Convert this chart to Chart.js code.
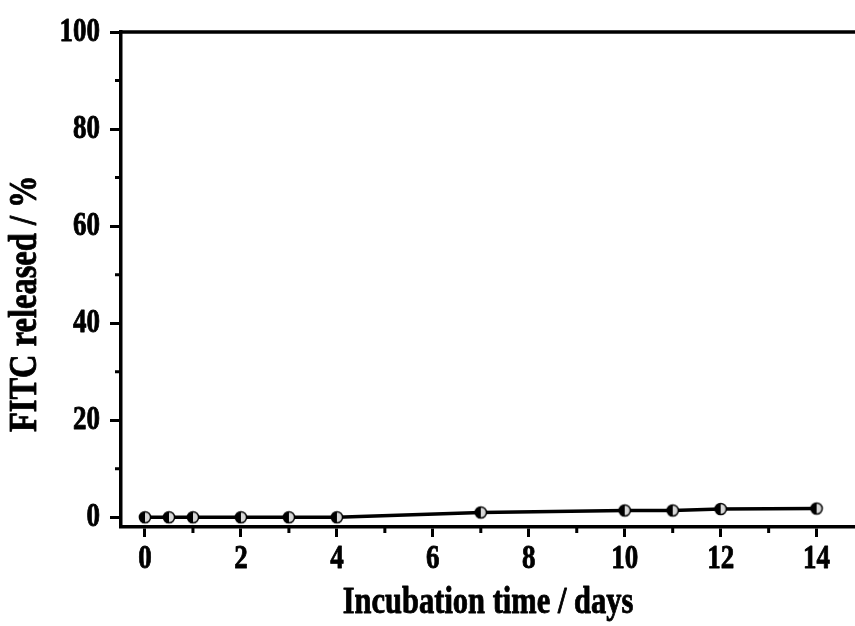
<!DOCTYPE html>
<html>
<head>
<meta charset="utf-8">
<script src="https://cdn.jsdelivr.net/npm/chart.js@4"></script>
<style>
  html,body{margin:0;padding:0;background:#fff;}
  #wrap{width:855px;height:626px;position:relative;}
</style>
</head>
<body>
<div id="wrap"><canvas id="c" width="855" height="626"></canvas></div>
<script>
const days = [0, 0.5, 1, 2, 3, 4, 7, 10, 11, 12, 14];
const released = [0, 0, 0, 0, 0, 0, 1.0, 1.4, 1.4, 1.7, 1.8];
const xMajorTicks = [0, 2, 4, 6, 8, 10, 12, 14];
const xMinorTicks = [1, 3, 5, 7, 9, 11, 13];
const yMajorTicks = [0, 20, 40, 60, 80, 100];
const yMinorTicks = [10, 30, 50, 70, 90];
const xTitle = 'Incubation time / days';
const yTitle = 'FITC released / %';

const FONT = '"Liberation Serif", "Times New Roman", serif';
const TEXT_STRETCH = 1.22; // glyphs in the reference are taller than wide

const canvas = document.getElementById('c');
const ctx2d = canvas.getContext('2d');
const baseFillText = CanvasRenderingContext2D.prototype.fillText;
const baseStrokeText = CanvasRenderingContext2D.prototype.strokeText;
ctx2d.fillText = function (t, x, y, mw) {
  this.save();
  this.translate(x, y);
  this.scale(1, TEXT_STRETCH);
  if (mw !== undefined) baseFillText.call(this, t, 0, 0, mw); else baseFillText.call(this, t, 0, 0);
  this.strokeStyle = this.fillStyle;
  this.lineWidth = 0.7;
  this.lineJoin = 'round';
  if (mw !== undefined) baseStrokeText.call(this, t, 0, 0, mw); else baseStrokeText.call(this, t, 0, 0);
  this.restore();
};

function halfMarker(r) {
  const s = Math.ceil(r * 2 + 4);
  const cv = document.createElement('canvas');
  cv.width = s; cv.height = s;
  const g = cv.getContext('2d');
  const c = s / 2;
  g.beginPath(); g.arc(c, c, r, 0, Math.PI * 2); g.fillStyle = '#d8d8d8'; g.fill();
  g.beginPath(); g.moveTo(c, c - r); g.arc(c, c, r, -Math.PI / 2, Math.PI / 2, true); g.closePath();
  g.fillStyle = '#000'; g.fill();
  g.beginPath(); g.arc(c, c, r, 0, Math.PI * 2); g.lineWidth = 1.5; g.strokeStyle = '#000'; g.stroke();
  return cv;
}
const marker = halfMarker(5.6);

const framePlugin = {
  id: 'frame',
  afterDraw(chart) {
    const ctx = chart.ctx, a = chart.chartArea;
    const xs = chart.scales.x, ys = chart.scales.y;
    ctx.save();
    ctx.strokeStyle = '#000';
    ctx.lineWidth = 3.5;
    ctx.beginPath(); ctx.moveTo(a.left - 1.75, a.top); ctx.lineTo(a.right, a.top); ctx.stroke();
    ctx.lineWidth = 3;
    ctx.beginPath();
    xMinorTicks.forEach(v => { const p = xs.getPixelForValue(v); ctx.moveTo(p, a.bottom); ctx.lineTo(p, a.bottom + 6); });
    yMinorTicks.forEach(v => { const p = ys.getPixelForValue(v); ctx.moveTo(a.left, p); ctx.lineTo(a.left - 6, p); });
    ctx.stroke();
    // y-axis title (placed slightly below the axis centre, as in the reference)
    ctx.translate(36, ys.getPixelForValue(44));
    ctx.rotate(-Math.PI / 2);
    ctx.font = 'bold 32.5px ' + FONT;
    ctx.fillStyle = '#000';
    ctx.textAlign = 'center';
    ctx.textBaseline = 'alphabetic';
    ctx.fillText(yTitle, 0, 0);
    ctx.restore();
  }
};

new Chart(canvas, {
  type: 'scatter',
  data: {
    datasets: [{
      data: days.map((d, i) => ({ x: d, y: released[i] })),
      showLine: true,
      borderColor: '#000',
      borderWidth: 3.5,
      pointStyle: marker,
      pointRadius: 6,
      pointHoverRadius: 6,
      clip: false
    }]
  },
  options: {
    responsive: false,
    animation: false,
    devicePixelRatio: 1,
    layout: { autoPadding: false, padding: { top: 32, right: 0, left: 0, bottom: 0 } },
    plugins: { legend: { display: false }, tooltip: { enabled: false } },
    scales: {
      x: {
        type: 'linear', min: -0.5, max: 14.8,
        afterBuildTicks: s => { s.ticks = xMajorTicks.map(v => ({ value: v })); },
        afterFit: s => { s.height = 99; s.paddingRight = 0; s.paddingLeft = 0; },
        border: { display: true, color: '#000', width: 3.5 },
        grid: { display: true, drawOnChartArea: false, drawTicks: true, tickLength: 10, tickWidth: 3, tickColor: '#000' },
        ticks: { color: '#000', font: { family: FONT, weight: 'bold', size: 27 }, padding: 6, maxRotation: 0, autoSkip: false },
        title: { display: true, text: xTitle, color: '#000', font: { family: FONT, weight: 'bold', size: 30.5 }, padding: { top: 8 } }
      },
      y: {
        type: 'linear', min: -2, max: 100,
        afterBuildTicks: s => { s.ticks = yMajorTicks.map(v => ({ value: v })); },
        afterFit: s => { s.width = 121; },
        border: { display: true, color: '#000', width: 3.5 },
        grid: { display: true, drawOnChartArea: false, drawTicks: true, tickLength: 11, tickWidth: 3, tickColor: '#000' },
        ticks: { color: '#000', font: { family: FONT, weight: 'bold', size: 27 }, padding: 10, autoSkip: false },
        title: { display: false, text: yTitle }
      }
    }
  },
  plugins: [framePlugin]
});
</script>
</body>
</html>
